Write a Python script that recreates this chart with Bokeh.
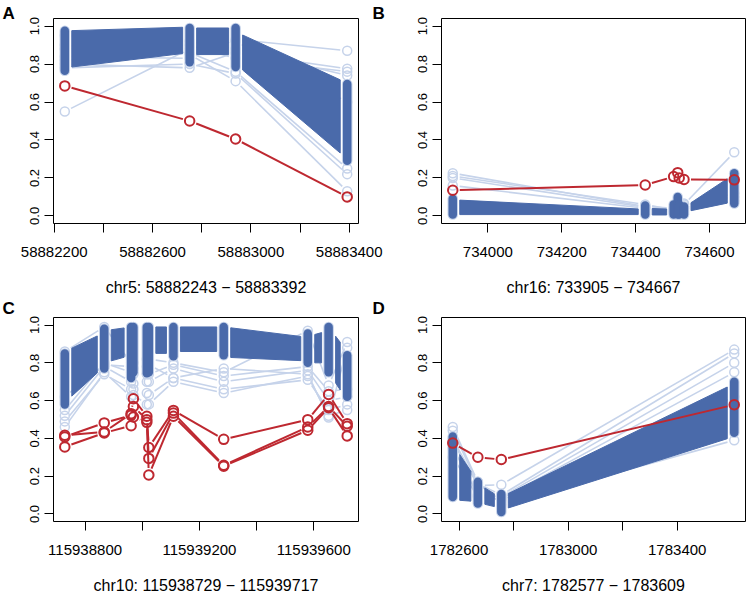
import math
from bokeh.plotting import figure
from bokeh.models import FixedTicker, Range1d, Label, NumeralTickFormatter
from bokeh.layouts import gridplot
from bokeh.embed import file_html
from bokeh.resources import INLINE

DENSE = "#4a6aaa"
LIGHT = "#c6d3ea"
RED = "#be2830"
FONT = "Liberation Sans"

# ---------------- Panel A ----------------
A_title = "chr5: 58882243 \u2212 58883392"
A_pos = [58882243, 58882751, 58882938, 58883392]
A_red = [[0.685, 0.500, 0.405, 0.100]]
A_stack_lo = [0.765, 0.81, 0.785, 0.29]
A_stack_hi = [0.975, 0.99, 0.99, 0.695]
A_band_lo0 = [0.78, 0.85, 0.80]
A_band_lo1 = [0.86, 0.85, 0.30]
A_band_hi0 = [0.975, 0.99, 0.97]
A_band_hi1 = [0.995, 0.99, 0.70]
A_out = [
    [0.55, 0.88, 0.92, 0.60],
    [0.80, 0.78, 0.86, 0.775],
    [0.84, 0.83, 0.93, 0.87],
    [0.90, 0.85, 0.71, 0.13],
    [0.78, 0.80, 0.75, 0.22],
    [0.82, 0.86, 0.76, 0.25],
    [0.95, 0.92, 0.88, 0.74],
    [0.88, 0.90, 0.83, 0.76],
]
A_major = [58882200, 58882600, 58883000, 58883400]
A_minor = [58882400, 58882800, 58883200]

# ---------------- Panel B ----------------
B_title = "chr16: 733905 \u2212 734667"
B_pos = [733905, 734426, 734503, 734514, 734518, 734531, 734667]
B_red = [[0.135, 0.163, 0.207, 0.228, 0.200, 0.192, 0.190]]
B_stack_lo = [0.007, 0.007, 0.007, 0.007, 0.007, 0.007, 0.065]
B_stack_hi = [0.09, 0.055, 0.06, 0.10, 0.06, 0.05, 0.225]
B_band_lo0 = [0.007, 0.005, 0.007, 0.007, 0.007, 0.02]
B_band_lo1 = [0.007, 0.005, 0.007, 0.007, 0.007, 0.075]
B_band_hi0 = [0.085, 0.04, 0.06, 0.06, 0.06, 0.045]
B_band_hi1 = [0.035, 0.035, 0.06, 0.06, 0.06, 0.22]
B_out = [
    [0.225, 0.05, 0.04, 0.06, 0.04, 0.065, 0.10],
    [0.21, 0.06, 0.03, 0.05, 0.03, 0.06, 0.335],
    [0.20, 0.045, 0.02, 0.05, 0.02, 0.04, 0.08],
    [0.16, 0.04, 0.02, 0.04, 0.03, 0.05, 0.12],
]
B_major = [734000, 734200, 734400, 734600]
B_minor = []

# ---------------- Panel C ----------------
C_title = "chr10: 115938729 \u2212 115939717"
C_pos = [115938729, 115938867, 115938961, 115938969, 115939016, 115939023,
         115939109, 115939285, 115939579, 115939652, 115939717]
C_red = [
    [0.416, 0.434, 0.531, 0.610, 0.517, 0.352, 0.548, 0.395, 0.499, 0.633, 0.478],
    [0.408, 0.482, 0.522, 0.569, 0.499, 0.294, 0.534, 0.258, 0.460, 0.569, 0.464],
    [0.355, 0.429, 0.467, 0.513, 0.485, 0.206, 0.517, 0.253, 0.443, 0.562, 0.413],
]
C_stack_lo = [0.58, 0.77, 0.72, 0.75, 0.745, 0.75, 0.835, 0.84, 0.80, 0.75, 0.62]
C_stack_hi = [0.85, 0.98, 0.99, 0.99, 0.99, 0.99, 0.99, 0.99, 0.955, 0.99, 0.84]
C_band_lo0 = [0.59, 0.80, 0.75, 0.80, 0.75, 0.85, 0.86, 0.83, 0.80, 0.75]
C_band_lo1 = [0.78, 0.84, 0.75, 0.80, 0.75, 0.85, 0.86, 0.81, 0.80, 0.60]
C_band_hi0 = [0.86, 0.97, 0.99, 0.99, 0.99, 0.99, 0.99, 0.99, 0.94, 0.99]
C_band_hi1 = [0.96, 0.99, 0.99, 0.99, 0.99, 0.99, 0.99, 0.935, 0.97, 0.86]
C_out = [
    [0.46, 0.75, 0.62, 0.63, 0.58, 0.58, 0.70, 0.64, 0.73, 0.52, 0.55],
    [0.49, 0.74, 0.66, 0.66, 0.64, 0.63, 0.72, 0.66, 0.71, 0.55, 0.58],
    [0.52, 0.78, 0.70, 0.69, 0.70, 0.70, 0.77, 0.70, 0.76, 0.60, 0.62],
    [0.55, 0.80, 0.75, 0.74, 0.74, 0.74, 0.79, 0.73, 0.78, 0.65, 0.66],
    [0.86, 0.99, 0.80, 0.80, 0.82, 0.82, 0.80, 0.75, 0.97, 0.68, 0.91],
    [0.62, 0.79, 0.78, 0.77, 0.78, 0.79, 0.72, 0.77, 0.74, 0.51, 0.88],
]
C_major = [115938800, 115939200, 115939600]
C_minor = [115939000, 115939400]

# ---------------- Panel D ----------------
D_title = "chr7: 1782577 \u2212 1783609"
D_pos = [1782577, 1782669, 1782755, 1783609]
D_red = [[0.375, 0.300, 0.288, 0.578]]
D_stack_lo = [0.09, 0.055, 0.01, 0.43]
D_stack_hi = [0.41, 0.17, 0.105, 0.70]
D_band_lo0 = [0.075, 0.06, 0.02]
D_band_lo1 = [0.065, 0.03, 0.41]
D_band_hi0 = [0.37, 0.16, 0.09]
D_band_hi1 = [0.17, 0.085, 0.69]
D_out = [
    [0.40, 0.15, 0.155, 0.87],
    [0.38, 0.16, 0.10, 0.85],
    [0.35, 0.10, 0.09, 0.80],
    [0.30, 0.09, 0.08, 0.75],
    [0.46, 0.17, 0.05, 0.39],
    [0.44, 0.16, 0.07, 0.62],
]
D_major = [1782600, 1783000, 1783400]
D_minor = [1782800, 1783200]

Y_TICKS = [0.0, 0.2, 0.4, 0.6, 0.8, 1.0]
GAP = 7.0


def gapped(xs, ys, sx, sy, g):
    X0, Y0, X1, Y1 = [], [], [], []
    for i in range(len(xs) - 1):
        ddx = xs[i + 1] - xs[i]
        ddy = ys[i + 1] - ys[i]
        L = math.hypot(ddx * sx, ddy * sy)
        if L <= 2 * g:
            continue
        f = g / L
        X0.append(xs[i] + ddx * f)
        Y0.append(ys[i] + ddy * f)
        X1.append(xs[i + 1] - ddx * f)
        Y1.append(ys[i + 1] - ddy * f)
    return X0, Y0, X1, Y1


def band_polys(pos, lo0, lo1, hi0, hi1, sx, g):
    xs_l, ys_l = [], []
    for i in range(len(pos) - 1):
        d = pos[i + 1] - pos[i]
        w = d * sx
        if w <= 2 * g:
            continue
        t = g / w
        xl = pos[i] + d * t
        xr = pos[i + 1] - d * t
        ll = lo0[i] + (lo1[i] - lo0[i]) * t
        lr = lo1[i] - (lo1[i] - lo0[i]) * t
        hl = hi0[i] + (hi1[i] - hi0[i]) * t
        hr = hi1[i] - (hi1[i] - hi0[i]) * t
        xs_l.append([xl, xr, xr, xl])
        ys_l.append([ll, lr, hr, hl])
    return xs_l, ys_l


def make_panel(pos, stack_lo, stack_hi, blo0, blo1, bhi0, bhi1, outs, reds,
               major, minor, title, fw, fh, bl, br, bt, bb):
    x0, x1 = min(pos), max(pos)
    pad = 0.04 * (x1 - x0)
    xr0, xr1 = x0 - pad, x1 + pad
    p = figure(width=bl + fw + br, height=bt + fh + bb,
               x_range=Range1d(xr0, xr1), y_range=Range1d(-0.04, 1.04),
               output_backend="svg", toolbar_location=None,
               min_border_left=bl, min_border_right=br,
               min_border_top=bt, min_border_bottom=bb)
    p.background_fill_color = "white"
    p.border_fill_color = "white"
    p.outline_line_color = "black"
    p.outline_line_width = 1
    p.outline_line_alpha = 1
    p.xgrid.grid_line_color = None
    p.ygrid.grid_line_color = None

    sx = fw / (xr1 - xr0)
    sy = fh / 1.08

    # outlier samples (light)
    for o in outs:
        a, b, c, d = gapped(pos, o, sx, sy, GAP)
        p.segment(x0=a, y0=b, x1=c, y1=d, line_color=LIGHT, line_width=1.6)
    for o in outs:
        p.scatter(x=pos, y=o, marker="circle", size=9, fill_color=None,
                  line_color=LIGHT, line_width=1.5)

    # dense bands
    bx, by = band_polys(pos, blo0, blo1, bhi0, bhi1, sx, GAP)
    if bx:
        p.patches(xs=bx, ys=by, fill_color=DENSE, line_color=DENSE, line_width=1)

    # dense stacks of points
    p.segment(x0=pos, y0=stack_lo, x1=pos, y1=stack_hi, line_color=LIGHT,
              line_width=10.5, line_cap="round")
    p.segment(x0=pos, y0=stack_lo, x1=pos, y1=stack_hi, line_color=DENSE,
              line_width=8.5, line_cap="round")

    # red sample(s)
    for r in reds:
        a, b, c, d = gapped(pos, r, sx, sy, GAP)
        p.segment(x0=a, y0=b, x1=c, y1=d, line_color=RED, line_width=2)
    for r in reds:
        p.scatter(x=pos, y=r, marker="circle", size=9.5, fill_color=None,
                  line_color=RED, line_width=2)

    # axes
    xa = p.xaxis[0]
    xa.ticker = FixedTicker(ticks=major, minor_ticks=minor)
    xa.formatter = NumeralTickFormatter(format="0")
    xa.axis_line_color = None
    xa.major_tick_in = 0
    xa.major_tick_out = 9
    xa.minor_tick_in = 0
    xa.minor_tick_out = 9
    xa.major_tick_line_color = "black"
    xa.minor_tick_line_color = "black"
    xa.major_label_text_font = FONT
    xa.major_label_text_font_size = "15px"
    xa.major_label_text_color = "black"
    xa.major_label_standoff = 14
    xa.axis_label = title
    xa.axis_label_text_font = FONT
    xa.axis_label_text_font_size = "16px"
    xa.axis_label_text_font_style = "normal"
    xa.axis_label_text_color = "black"
    xa.axis_label_standoff = 19

    ya = p.yaxis[0]
    ya.ticker = FixedTicker(ticks=Y_TICKS, minor_ticks=[])
    ya.formatter = NumeralTickFormatter(format="0.0")
    ya.axis_line_color = None
    ya.major_tick_in = 0
    ya.major_tick_out = 9
    ya.minor_tick_out = 0
    ya.major_tick_line_color = "black"
    ya.major_label_orientation = "vertical"
    ya.major_label_text_font = FONT
    ya.major_label_text_font_size = "13px"
    ya.major_label_text_color = "black"
    ya.major_label_standoff = 5
    return p, sx, sy, xr0, xr1


# column 1 frames: x 53..358 ; column 2 frames: x 441..745
# row 1 frames: y 18..224 ; row 2 frames: y 317..522
pA, sxA, syA, a0, a1 = make_panel(A_pos, A_stack_lo, A_stack_hi, A_band_lo0, A_band_lo1,
                                  A_band_hi0, A_band_hi1, A_out, A_red, A_major, A_minor,
                                  A_title, 305, 206, 53, 28, 18, 74)
pB, sxB, syB, b0, b1 = make_panel(B_pos, B_stack_lo, B_stack_hi, B_band_lo0, B_band_lo1,
                                  B_band_hi0, B_band_hi1, B_out, B_red, B_major, B_minor,
                                  B_title, 304, 206, 55, 1, 18, 74)
pC, sxC, syC, c0, c1 = make_panel(C_pos, C_stack_lo, C_stack_hi, C_band_lo0, C_band_lo1,
                                  C_band_hi0, C_band_hi1, C_out, C_red, C_major, C_minor,
                                  C_title, 305, 205, 53, 28, 19, 74)
pD, sxD, syD, d0, d1 = make_panel(D_pos, D_stack_lo, D_stack_hi, D_band_lo0, D_band_lo1,
                                  D_band_hi0, D_band_hi1, D_out, D_red, D_major, D_minor,
                                  D_title, 304, 205, 55, 1, 19, 74)


def letter(p, text, x, y, side):
    p.add_layout(Label(x=x, y=y, x_units="data", y_units="data", text=text,
                       text_font=FONT, text_font_style="bold",
                       text_font_size="17px", text_color="black",
                       text_align="left", text_baseline="middle"), side)


# panel letters, placed in side panels so that they are not clipped by the frame
letter(pA, "A", a0 - 51 / sxA, 1.04 + 5.5 / syA, "left")
letter(pA, "B", a1 + 14 / sxA, 1.04 + 5.5 / syA, "right")
letter(pC, "C", c0 - 51 / sxC, 1.04 + 9.5 / syC, "left")
letter(pC, "D", c1 + 14 / sxC, 1.04 + 9.5 / syC, "right")

grid = gridplot([[pA, pB], [pC, pD]], toolbar_location=None)

open("out.html", "w").write(file_html(grid, INLINE))
